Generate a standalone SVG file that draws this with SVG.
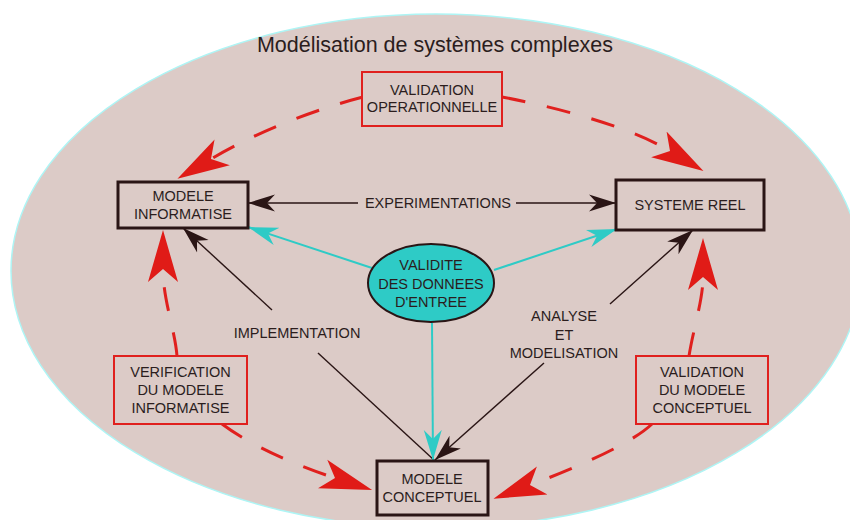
<svg xmlns="http://www.w3.org/2000/svg" width="850" height="520" viewBox="0 0 850 520">
<style>
  text { font-family: "Liberation Sans", Arial, sans-serif; font-size: 14.5px; fill: #2b1d1d; text-anchor: middle; }
  .title { font-size: 21.5px; }
  .box { fill: #dccbc7; stroke: #2a1515; stroke-width: 3; }
  .rbox { fill: #dccbc7; stroke: #e0201e; stroke-width: 2; }
  .blk { fill: none; stroke: #2a1515; stroke-width: 1.4; }
  .cyn { fill: none; stroke: #2ecbc6; stroke-width: 2; }
  .red { fill: none; stroke: #e0201e; stroke-width: 3; stroke-dasharray: 24 22; }
</style>
<defs>
  <marker id="mb" markerUnits="userSpaceOnUse" viewBox="0 -10 30 20" markerWidth="30" markerHeight="20" refX="27" refY="0" orient="auto">
    <path d="M0,-8.5 L27,0 L0,8.5 L8,0 Z" fill="#2a1515"/>
  </marker>
  <marker id="mc" markerUnits="userSpaceOnUse" viewBox="0 -10 32 20" markerWidth="32" markerHeight="20" refX="30" refY="0" orient="auto">
    <path d="M0,-9 L30,0 L0,9 L9,0 Z" fill="#2ecbc6"/>
  </marker>
  <marker id="mr" markerUnits="userSpaceOnUse" viewBox="0 -16 54 32" markerWidth="54" markerHeight="32" refX="13" refY="0" orient="auto">
    <path d="M0,-15 L52,0 L0,15 L13,0 Z" fill="#e01b17"/>
  </marker>
</defs>

<g id="background">
  <ellipse cx="436" cy="271" rx="425" ry="257" fill="#dccbc7" stroke="#aef5f5" stroke-width="1.5"/>
  <text class="title" x="435" y="52">Modélisation de systèmes complexes</text>
</g>

<g id="connectors">
  <!-- experimentations -->
  <path class="blk" d="M358,203 L248,203" marker-end="url(#mb)"/>
  <path class="blk" d="M516,203 L616,203" marker-end="url(#mb)"/>
  <!-- implementation -->
  <path class="blk" d="M272,310 L183,228" marker-end="url(#mb)"/>
  <path class="blk" d="M318,353 L434,460"/>
  <!-- analyse et modelisation -->
  <path class="blk" d="M610,304 L693,230" marker-end="url(#mb)"/>
  <path class="blk" d="M544,363 L435,460" marker-end="url(#mb)"/>
  <!-- validite des donnees -->
  <path class="cyn" d="M372,268 L248,227" marker-end="url(#mc)"/>
  <path class="cyn" d="M494,270 L617,229" marker-end="url(#mc)"/>
  <path class="cyn" d="M432,323 L433,460" marker-end="url(#mc)"/>
  <!-- red dashed validation arrows -->
  <path class="red" d="M363,97 C320,108 260,130 211,159" marker-end="url(#mr)"/>
  <path class="red" d="M502,97 C545,105 625,124 670,151" marker-end="url(#mr)"/>
  <path class="red" d="M177,356 C175,330 163,300 163,269" marker-end="url(#mr)"/>
  <path class="red" d="M222,424 C250,445 295,465 335,478" marker-end="url(#mr)"/>
  <path class="red" d="M689,356 C693,330 703,300 703,277" marker-end="url(#mr)"/>
  <path class="red" d="M652,424 C630,445 570,470 530,485" marker-end="url(#mr)"/>
  <!-- labels -->
  <text x="438" y="208">EXPERIMENTATIONS</text>
  <text x="297" y="338">IMPLEMENTATION</text>
  <text x="564" y="321">ANALYSE</text>
  <text x="564" y="340">ET</text>
  <text x="564" y="358">MODELISATION</text>
</g>

<g id="modele-informatise">
  <rect class="box" x="118" y="182" width="130" height="46"/>
  <text x="183" y="201">MODELE</text>
  <text x="183" y="218.5">INFORMATISE</text>
</g>

<g id="systeme-reel">
  <rect class="box" x="616" y="180" width="148" height="50"/>
  <text x="690" y="209.5">SYSTEME REEL</text>
</g>

<g id="modele-conceptuel">
  <rect class="box" x="377" y="461" width="111" height="54"/>
  <text x="432" y="484">MODELE</text>
  <text x="432" y="502">CONCEPTUEL</text>
</g>

<g id="validite-donnees">
  <ellipse cx="431" cy="283" rx="63" ry="39" fill="#2ecbc6" stroke="#2a1515" stroke-width="2"/>
  <text x="431" y="270">VALIDITE</text>
  <text x="431" y="288.5">DES DONNEES</text>
  <text x="431" y="307">D'ENTREE</text>
</g>

<g id="validation-operationnelle">
  <rect class="rbox" x="362" y="72" width="140" height="54"/>
  <text x="432" y="95">VALIDATION</text>
  <text x="432" y="112">OPERATIONNELLE</text>
</g>

<g id="verification-modele-informatise">
  <rect class="rbox" x="114" y="356" width="133" height="68"/>
  <text x="180.5" y="377">VERIFICATION</text>
  <text x="180.5" y="395">DU MODELE</text>
  <text x="180.5" y="413">INFORMATISE</text>
</g>

<g id="validation-modele-conceptuel">
  <rect class="rbox" x="636" y="356" width="132" height="68"/>
  <text x="702" y="377">VALIDATION</text>
  <text x="702" y="395">DU MODELE</text>
  <text x="702" y="413">CONCEPTUEL</text>
</g>
</svg>
